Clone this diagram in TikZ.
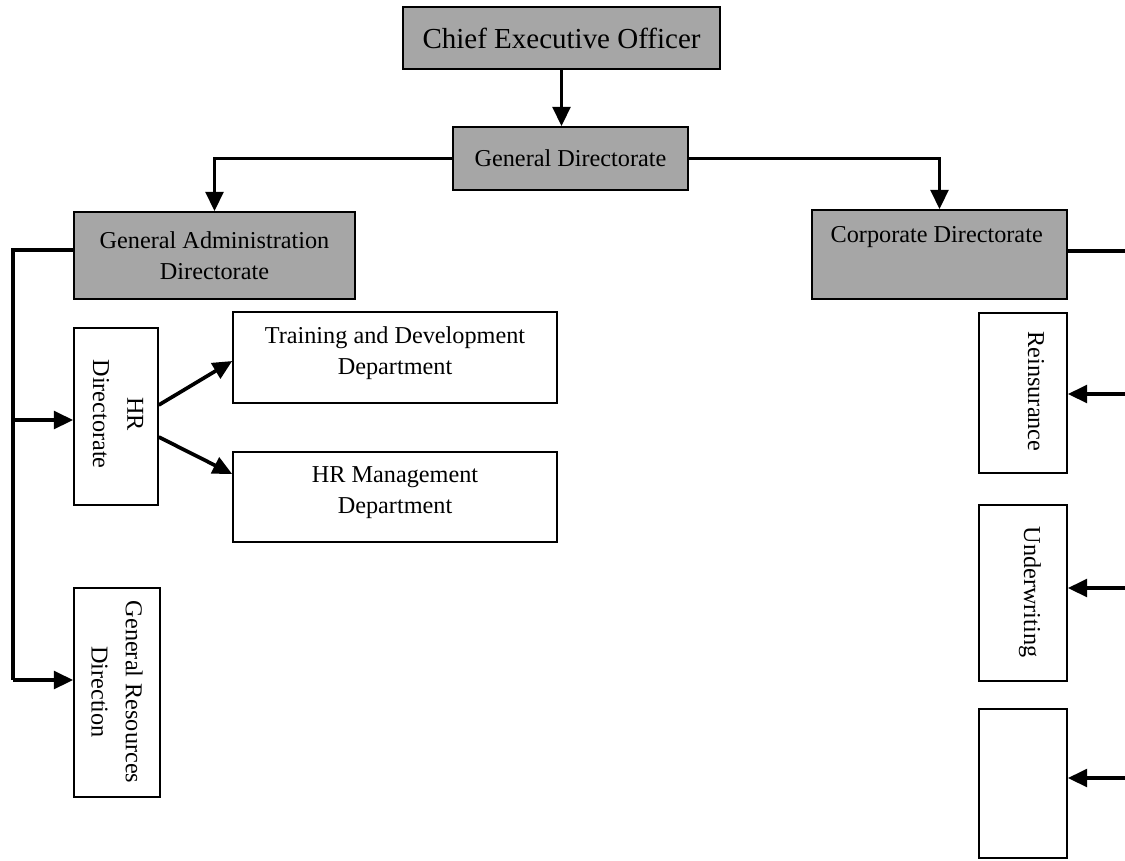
\documentclass[tikz,border=0pt]{standalone}
\usepackage{fontspec}
\setmainfont{Liberation Serif}
\usetikzlibrary{arrows.meta}
\definecolor{boxgray}{RGB}{166,166,166}
\begin{document}
\begin{tikzpicture}[x=0.02cm,y=-0.02cm,
  dims/.style 2 args={minimum width=#1*0.02cm, minimum height=#2*0.02cm},
  box/.style={draw=black, line width=0.9pt, inner sep=0pt, align=center, fill=white,
              font=\fontsize{13.8}{17.5}\selectfont},
  headbox/.style={box, fill=boxgray},
  vtext/.style={rotate=-90, align=center, inner sep=0pt, font=\fontsize{13.8}{19.5}\selectfont},
  conn/.style={line width=2.1pt, line join=miter},
  arr/.style={conn, -{Triangle[length=11pt,width=10pt]}}
]
\useasboundingbox (0,0) rectangle (1125,860);
\clip (0,0) rectangle (1125,860);

% top of the hierarchy
\node[headbox, dims={317}{62}, font=\fontsize{16.5}{20}\selectfont] (ceo) at (561.5,38) {Chief Executive Officer};
\node[headbox, dims={235}{63}] (gd) at (570.5,158.5) {General Directorate};
\node[headbox, dims={281}{87}] (ga) at (214.5,255.5) {General Administration\\Directorate};
\node[headbox, dims={255}{89}] (corp) at (939.5,254.5) {};
\node[inner sep=0pt, font=\fontsize{13.8}{17.5}\selectfont] (corptext) at (936.7,237) {Corporate Directorate};

% administration branch
\node[box, dims={84}{177}] (hr) at (116,416.5) {};
\node[vtext] (hrtext) at (118,414) {HR\\Directorate};
\node[box, dims={86}{209}] (grd) at (117,692.5) {};
\node[vtext] (grdtext) at (117,692) {General Resources\\Direction};
\node[box, dims={324}{91}] (train) at (395,357.5) {};
\node[box, draw=none, fill=none] (traintext) at (395,353) {Training and Development\\Department};
\node[box, dims={324}{90}] (hrm) at (395,497) {};
\node[box, draw=none, fill=none] (hrmtext) at (395,493) {HR Management\\Department};

% corporate branch
\node[box, dims={88}{160}] (reins) at (1023,393) {};
\node[vtext] (reinstext) at (1036,391.5) {Reinsurance};
\node[box, dims={88}{176}] (underw) at (1023,593) {};
\node[vtext] (underwtext) at (1030,592) {Underwriting};
\node[box, dims={88}{149}] (blank) at (1023,783.5) {};

% connectors
\draw[arr] (ceo.south) -- (ceo.south |- gd.north);
\draw[arr] (gd.west) -| (ga.north);
\draw[arr] (gd.east) -| (corp.north);

\coordinate (lspine) at (13,250);
\coordinate (lspinebot) at (13,680);
\draw[conn] (ga.west |- lspine) -- (lspine) -- (lspinebot);
\draw[arr] (lspinebot) -- (grd.west |- lspinebot);
\draw[arr] (13,420) -- (hr.west |- 0,420);

\draw[arr] (hr.east |- 0,405) -- (train.west |- 0,361);
\draw[arr] (hr.east |- 0,437) -- (hrm.west |- 0,474);

\coordinate (rspine) at (1136,251);
\draw[conn] (corp.east |- rspine) -- (rspine) -- (1136,900);
\draw[arr] (1136,394) -- (reins.east |- 0,394);
\draw[arr] (1136,588) -- (underw.east |- 0,588);
\draw[arr] (1136,778) -- (blank.east |- 0,778);
\end{tikzpicture}
\end{document}
